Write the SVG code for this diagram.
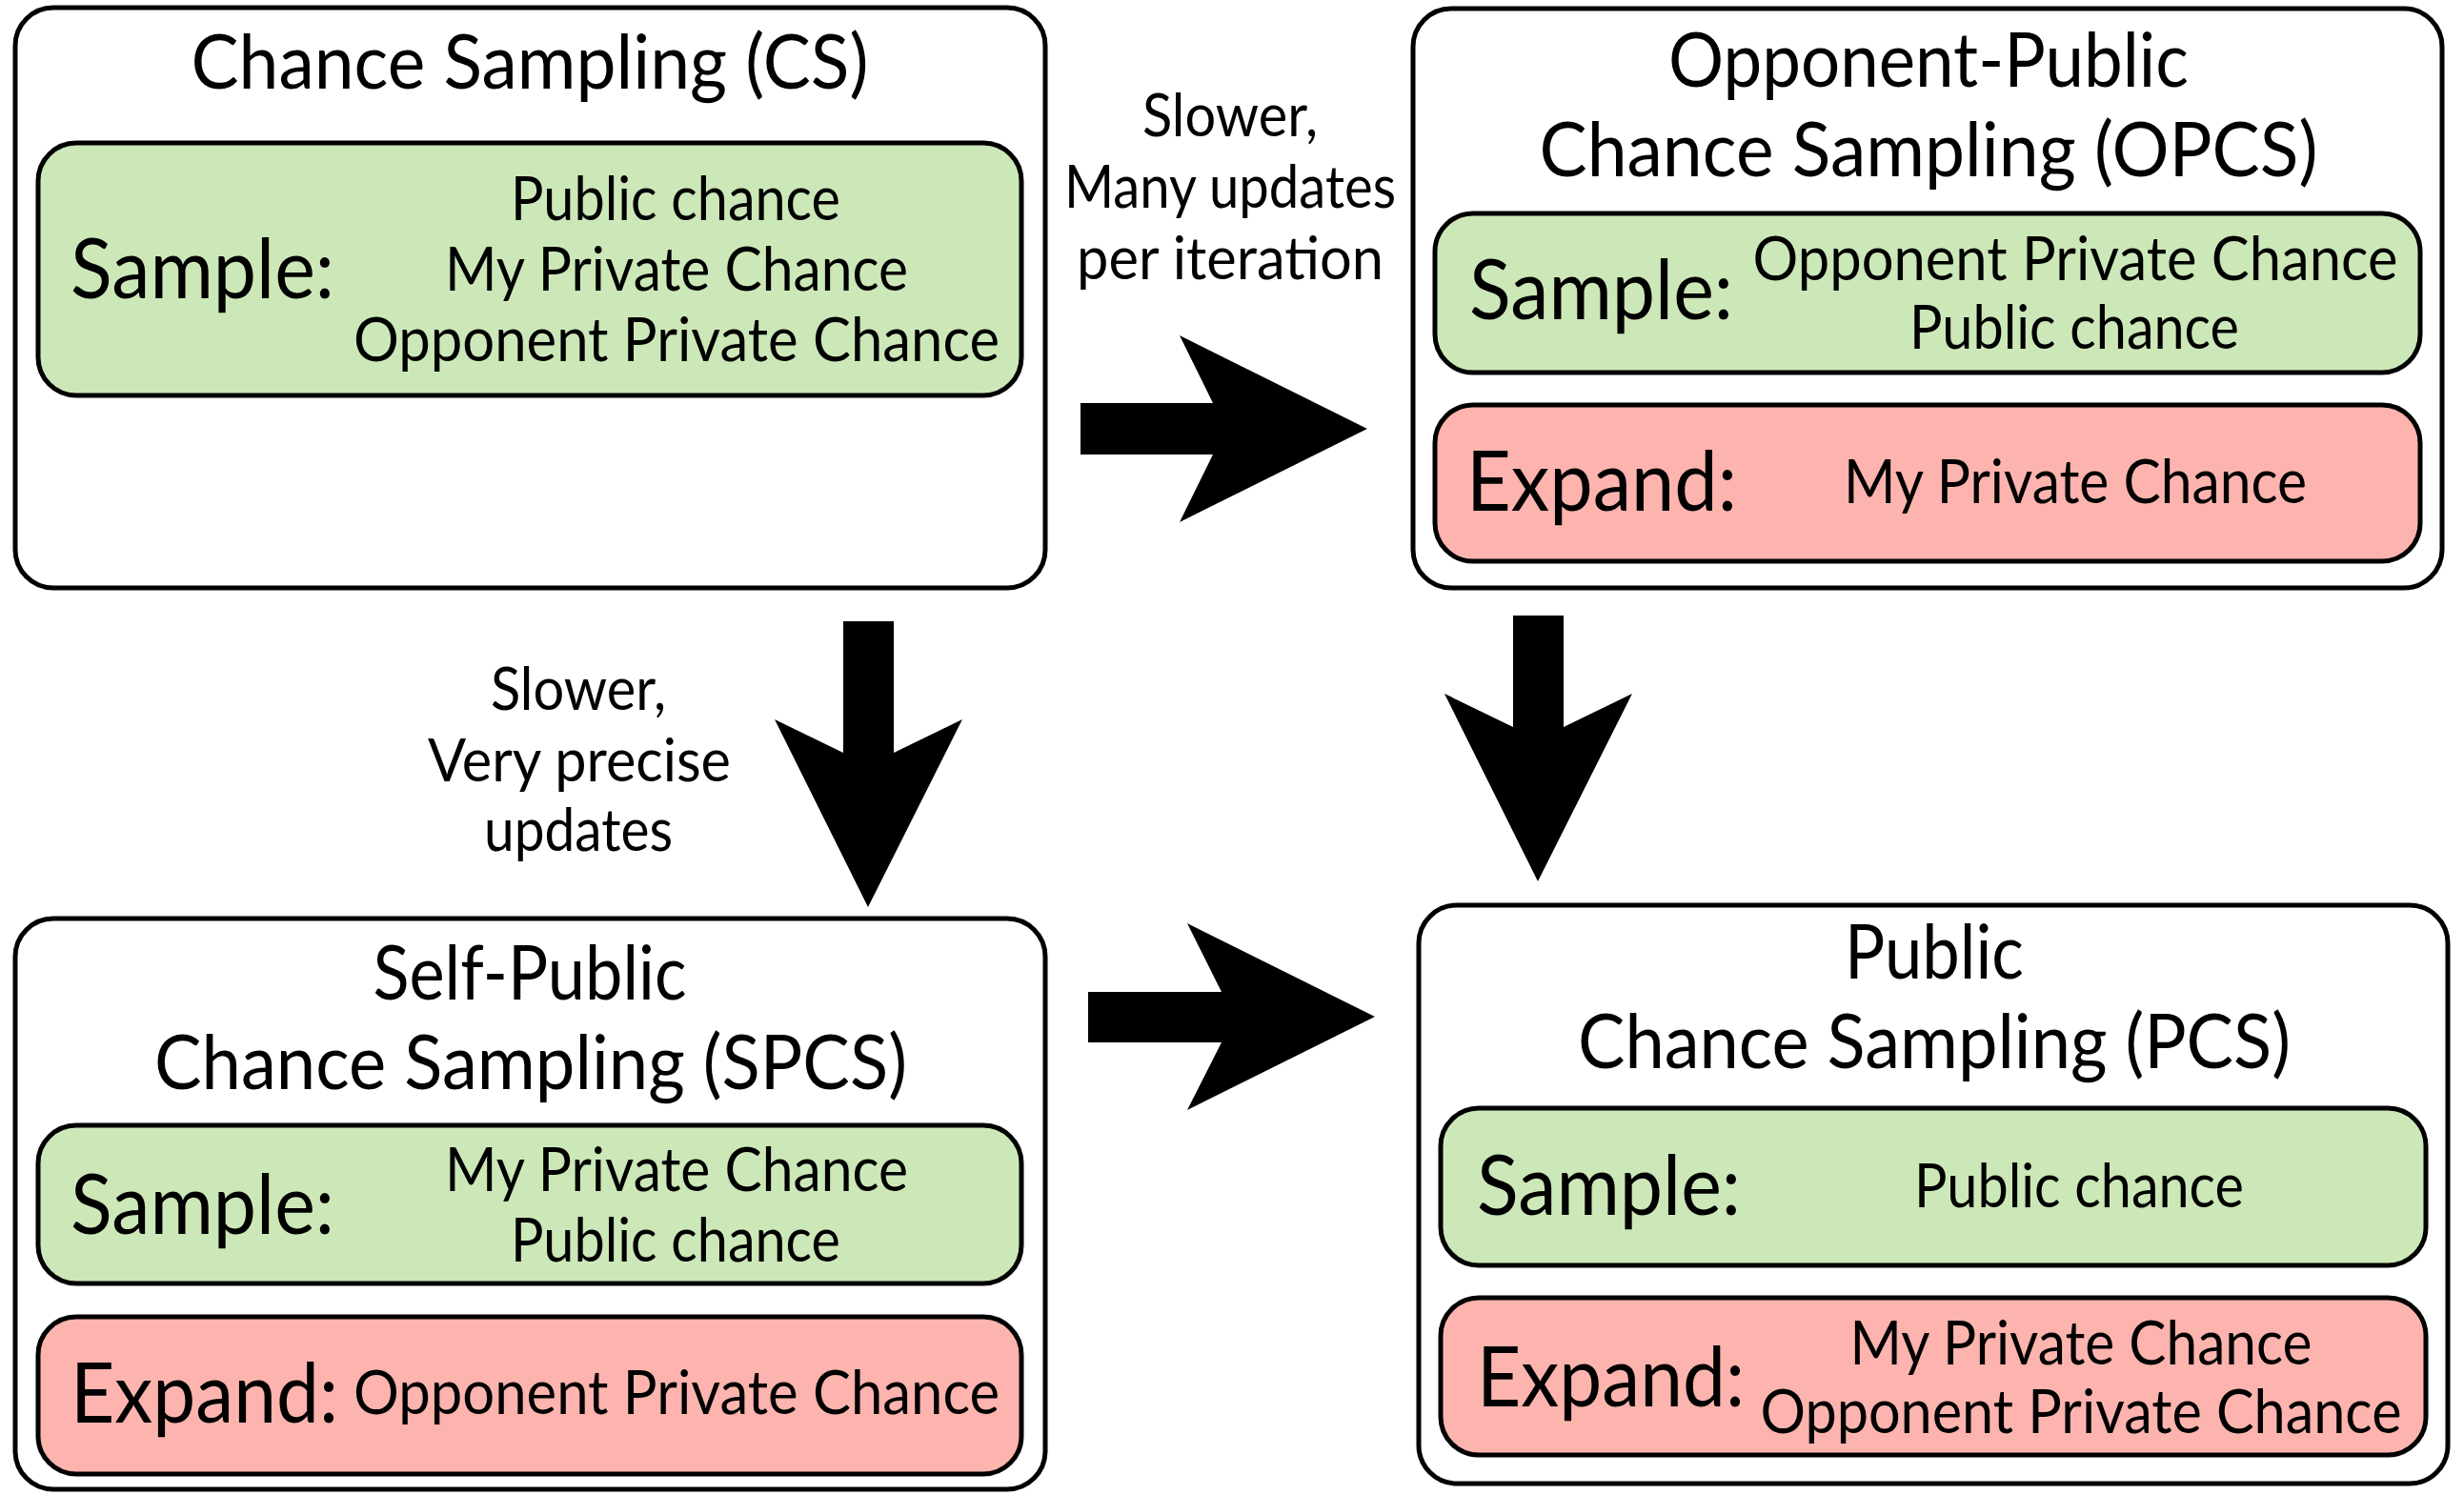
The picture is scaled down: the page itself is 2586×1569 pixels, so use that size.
<svg xmlns="http://www.w3.org/2000/svg" width="2586" height="1569" viewBox="0 0 2586 1569">
  <style>
    .frame { fill: #ffffff; stroke: #000000; stroke-width: 5; }
    .sample { fill: #cde8b8; stroke: #000000; stroke-width: 5; }
    .expand { fill: #fdb4ae; stroke: #000000; stroke-width: 5; }
    text { font-family: Lato, "Open Sans", "Noto Sans", sans-serif; fill: #000000; }
    .title { font-size: 80px; text-anchor: middle; }
    .key { font-size: 88px; }
    .item { font-size: 64px; text-anchor: middle; }
    .note { font-size: 62px; text-anchor: middle; }
    .arrow { fill: #000000; }
  </style>

  <!-- Chance Sampling -->
  <g id="cs">
    <rect class="frame" x="16" y="8" width="1081" height="609" rx="40"/>
    <text class="title" x="556" y="93" textLength="711" lengthAdjust="spacingAndGlyphs">Chance Sampling (CS)</text>
    <rect class="sample" x="40" y="150" width="1032" height="265" rx="40"/>
    <text class="key" x="74" y="313" textLength="277" lengthAdjust="spacingAndGlyphs">Sample:</text>
    <text class="item" x="709" y="231" textLength="346" lengthAdjust="spacingAndGlyphs">Public chance</text>
    <text class="item" x="710" y="305" textLength="486" lengthAdjust="spacingAndGlyphs">My Private Chance</text>
    <text class="item" x="710" y="379" textLength="678" lengthAdjust="spacingAndGlyphs">Opponent Private Chance</text>
  </g>

  <!-- Opponent-Public Chance Sampling -->
  <g id="opcs">
    <rect class="frame" x="1483" y="9" width="1080" height="608" rx="40"/>
    <text class="title" x="2024" y="91" textLength="546" lengthAdjust="spacingAndGlyphs">Opponent-Public</text>
    <text class="title" x="2024" y="185" textLength="817" lengthAdjust="spacingAndGlyphs">Chance Sampling (OPCS)</text>
    <rect class="sample" x="1506" y="224" width="1034" height="167" rx="40"/>
    <text class="key" x="1542" y="335" textLength="277" lengthAdjust="spacingAndGlyphs">Sample:</text>
    <text class="item" x="2178" y="294" textLength="677" lengthAdjust="spacingAndGlyphs">Opponent Private Chance</text>
    <text class="item" x="2177" y="366" textLength="346" lengthAdjust="spacingAndGlyphs">Public chance</text>
    <rect class="expand" x="1506" y="425" width="1034" height="164" rx="40"/>
    <text class="key" x="1539" y="536" textLength="284" lengthAdjust="spacingAndGlyphs">Expand:</text>
    <text class="item" x="2178" y="528" textLength="486" lengthAdjust="spacingAndGlyphs">My Private Chance</text>
  </g>

  <!-- Self-Public Chance Sampling -->
  <g id="spcs">
    <rect class="frame" x="16" y="964" width="1081" height="599" rx="40"/>
    <text class="title" x="556" y="1049" textLength="329" lengthAdjust="spacingAndGlyphs">Self-Public</text>
    <text class="title" x="557" y="1143" textLength="790" lengthAdjust="spacingAndGlyphs">Chance Sampling (SPCS)</text>
    <rect class="sample" x="40" y="1181" width="1032" height="166" rx="40"/>
    <text class="key" x="74" y="1295" textLength="277" lengthAdjust="spacingAndGlyphs">Sample:</text>
    <text class="item" x="710" y="1250" textLength="486" lengthAdjust="spacingAndGlyphs">My Private Chance</text>
    <text class="item" x="709" y="1324" textLength="346" lengthAdjust="spacingAndGlyphs">Public chance</text>
    <rect class="expand" x="40" y="1382" width="1032" height="165" rx="40"/>
    <text class="key" x="74" y="1493" textLength="281" lengthAdjust="spacingAndGlyphs">Expand:</text>
    <text class="item" x="710" y="1484" textLength="678" lengthAdjust="spacingAndGlyphs">Opponent Private Chance</text>
  </g>

  <!-- Public Chance Sampling -->
  <g id="pcs">
    <rect class="frame" x="1489" y="950" width="1080" height="607" rx="40"/>
    <text class="title" x="2030" y="1027" textLength="188" lengthAdjust="spacingAndGlyphs">Public</text>
    <text class="title" x="2030" y="1121" textLength="748" lengthAdjust="spacingAndGlyphs">Chance Sampling (PCS)</text>
    <rect class="sample" x="1512" y="1163" width="1034" height="165" rx="40"/>
    <text class="key" x="1550" y="1275" textLength="277" lengthAdjust="spacingAndGlyphs">Sample:</text>
    <text class="item" x="2182" y="1267" textLength="346" lengthAdjust="spacingAndGlyphs">Public chance</text>
    <rect class="expand" x="1512" y="1362" width="1034" height="165" rx="40"/>
    <text class="key" x="1550" y="1476" textLength="281" lengthAdjust="spacingAndGlyphs">Expand:</text>
    <text class="item" x="2184" y="1432" textLength="485" lengthAdjust="spacingAndGlyphs">My Private Chance</text>
    <text class="item" x="2184" y="1504" textLength="673" lengthAdjust="spacingAndGlyphs">Opponent Private Chance</text>
  </g>

  <!-- Block arrows between the four schemes, with their trade-off notes -->
  <g id="connectors">
    <polygon class="arrow" points="1134,423 1273,423 1238,352 1435,450 1238,548 1273,477 1134,477"/>
    <polygon class="arrow" points="885,652 938,652 938,790 1010,755 911,952 813,755 885,790"/>
    <polygon class="arrow" points="1588,646 1641,646 1641,763 1713,728 1614,925 1516,728 1588,763"/>
    <polygon class="arrow" points="1142,1041 1282,1041 1246,969 1443,1067 1246,1165 1282,1094 1142,1094"/>
    <text class="note" x="1291" y="143" textLength="184" lengthAdjust="spacingAndGlyphs">Slower,</text>
    <text class="note" x="1291" y="218" textLength="348" lengthAdjust="spacingAndGlyphs">Many updates</text>
    <text class="note" x="1291" y="293" textLength="322" lengthAdjust="spacingAndGlyphs">per iteration</text>
    <text class="note" x="607" y="745" textLength="184" lengthAdjust="spacingAndGlyphs">Slower,</text>
    <text class="note" x="608" y="820" textLength="318" lengthAdjust="spacingAndGlyphs">Very precise</text>
    <text class="note" x="607" y="893" textLength="198" lengthAdjust="spacingAndGlyphs">updates</text>
  </g>
</svg>
